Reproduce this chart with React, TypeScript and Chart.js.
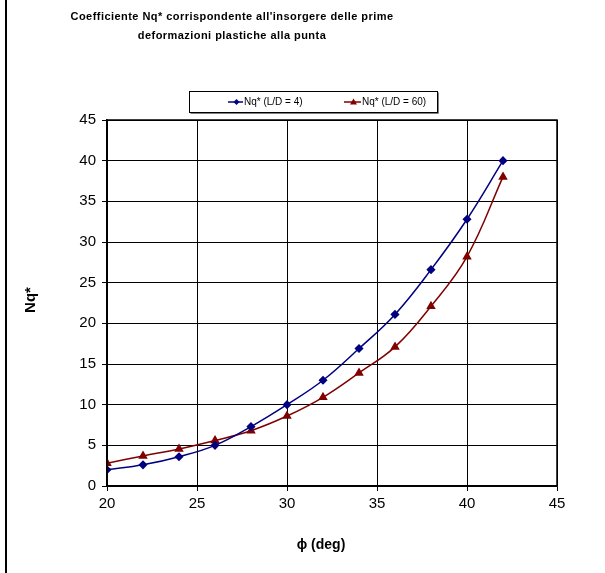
import React, { useEffect, useRef } from "react";
import { Chart, registerables } from "chart.js";

Chart.register(...registerables);

const phi = [20, 22, 24, 26, 28, 30, 32, 34, 36, 38, 40, 42];
const nqLD4 = [2.0, 2.6, 3.6, 5.0, 7.3, 10.0, 13.0, 16.9, 21.1, 26.6, 32.8, 40.0];
const nqLD60 = [2.8, 3.7, 4.55, 5.6, 6.8, 8.6, 10.9, 13.9, 17.1, 22.1, 28.2, 38.0];
const seriesLabels = ["Nq* (L/D = 4)", "Nq* (L/D = 60)"];
const titleLines = [
  "Coefficiente Nq* corrispondente all'insorgere delle prime",
  "deformazioni plastiche alla punta",
];
const xTitle = "\u03D5 (deg)";
const yTitle = "Nq*";

const BLUE = "#000080";
const RED = "#800000";
const FONT = "'Liberation Sans', Arial, sans-serif";

const decorPlugin = {
  id: "decor",
  afterDraw(chart: any) {
    const ctx = chart.ctx as CanvasRenderingContext2D;
    const a = chart.chartArea;
    ctx.save();
    // plot frame
    ctx.strokeStyle = "#000";
    ctx.lineWidth = 1.5;
    ctx.strokeRect(a.left, a.top, a.right - a.left, a.bottom - a.top);
    // left page border
    ctx.lineWidth = 2;
    ctx.beginPath();
    ctx.moveTo(6, 0);
    ctx.lineTo(6, chart.height);
    ctx.stroke();
    // title
    ctx.fillStyle = "#000";
    ctx.font = `bold 11px ${FONT}`;
    ctx.textAlign = "center";
    ctx.textBaseline = "middle";
    (ctx as any).letterSpacing = "0.45px";
    ctx.fillText(titleLines[0], 232, 17);
    ctx.fillText(titleLines[1], 232, 36);
    (ctx as any).letterSpacing = "0px";
    // axis titles
    ctx.font = `bold 14px ${FONT}`;
    ctx.fillText(xTitle, 321, 545);
    ctx.save();
    ctx.translate(31, 300);
    ctx.rotate(-Math.PI / 2);
    ctx.font = `bold 15px ${FONT}`;
    ctx.fillText(yTitle, 0, 0);
    ctx.restore();
    // legend
    ctx.lineWidth = 1;
    ctx.strokeStyle = "#000";
    ctx.strokeRect(189.5, 91.5, 248, 21);
    ctx.strokeStyle = "#808080";
    ctx.beginPath();
    ctx.moveTo(190.5, 113.5);
    ctx.lineTo(438.5, 113.5);
    ctx.lineTo(438.5, 92.5);
    ctx.stroke();
    const ly = 102;
    const items = [
      { x0: 228, x1: 243, label: seriesLabels[0], color: BLUE, marker: "d" },
      { x0: 344, x1: 361, label: seriesLabels[1], color: RED, marker: "t" },
    ];
    ctx.font = `10px ${FONT}`;
    ctx.textAlign = "left";
    for (const it of items) {
      ctx.strokeStyle = it.color;
      ctx.fillStyle = it.color;
      ctx.lineWidth = 1.5;
      ctx.beginPath();
      ctx.moveTo(it.x0, ly);
      ctx.lineTo(it.x1, ly);
      ctx.stroke();
      const mx = (it.x0 + it.x1) / 2 + 1;
      ctx.beginPath();
      if (it.marker === "d") {
        ctx.moveTo(mx, ly - 3);
        ctx.lineTo(mx + 3, ly);
        ctx.lineTo(mx, ly + 3);
        ctx.lineTo(mx - 3, ly);
      } else {
        ctx.moveTo(mx, ly - 3.5);
        ctx.lineTo(mx + 3.5, ly + 2.5);
        ctx.lineTo(mx - 3.5, ly + 2.5);
      }
      ctx.closePath();
      ctx.fill();
      ctx.fillStyle = "#000";
      ctx.fillText(it.label, it.x1 + 1, ly + 0.5);
    }
    ctx.restore();
  },
};

export default function App() {
  const ref = useRef<HTMLCanvasElement | null>(null);
  useEffect(() => {
    if (!ref.current) return;
    const chart = new Chart(ref.current, {
      type: "line",
      data: {
        datasets: [
          {
            label: seriesLabels[0],
            data: phi.map((x, i) => ({ x, y: nqLD4[i] })),
            borderColor: BLUE,
            backgroundColor: BLUE,
            borderWidth: 1.5,
            pointStyle: "rectRot",
            pointRadius: 3.5,
            tension: 0.4,
          },
          {
            label: seriesLabels[1],
            data: phi.map((x, i) => ({ x, y: nqLD60[i] })),
            borderColor: RED,
            backgroundColor: RED,
            borderWidth: 1.5,
            pointStyle: "triangle",
            pointRadius: 4,
            tension: 0.4,
          },
        ],
      },
      options: {
        animation: false,
        responsive: false,
        maintainAspectRatio: false,
        layout: { padding: { left: 0, top: 120, right: 48, bottom: 0 } },
        plugins: {
          legend: { display: false },
          title: { display: false },
          tooltip: { enabled: false },
        },
        scales: {
          x: {
            type: "linear",
            min: 20,
            max: 45,
            ticks: {
              stepSize: 5,
              color: "#000",
              font: { family: FONT, size: 15 },
              padding: 4,
              maxRotation: 0,
            },
            grid: { color: "#000", lineWidth: 1, tickLength: 5, tickColor: "#000" },
            border: { color: "#000", width: 1.5 },
            afterFit: (s: any) => {
              s.height = 87;
            },
          },
          y: {
            type: "linear",
            min: 0,
            max: 45,
            ticks: {
              stepSize: 5,
              color: "#000",
              font: { family: FONT, size: 15 },
              padding: 6,
            },
            grid: { color: "#000", lineWidth: 1, tickLength: 5, tickColor: "#000" },
            border: { color: "#000", width: 1.5 },
            afterFit: (s: any) => {
              s.width = 107;
            },
          },
        },
      },
      plugins: [decorPlugin],
    });
    return () => chart.destroy();
  }, []);
  return (
    <div style={{ position: "fixed", left: 0, top: 0, width: 605, height: 573, background: "#fff" }}>
      <canvas ref={ref} width={605} height={573} style={{ display: "block", width: 605, height: 573 }} />
    </div>
  );
}
